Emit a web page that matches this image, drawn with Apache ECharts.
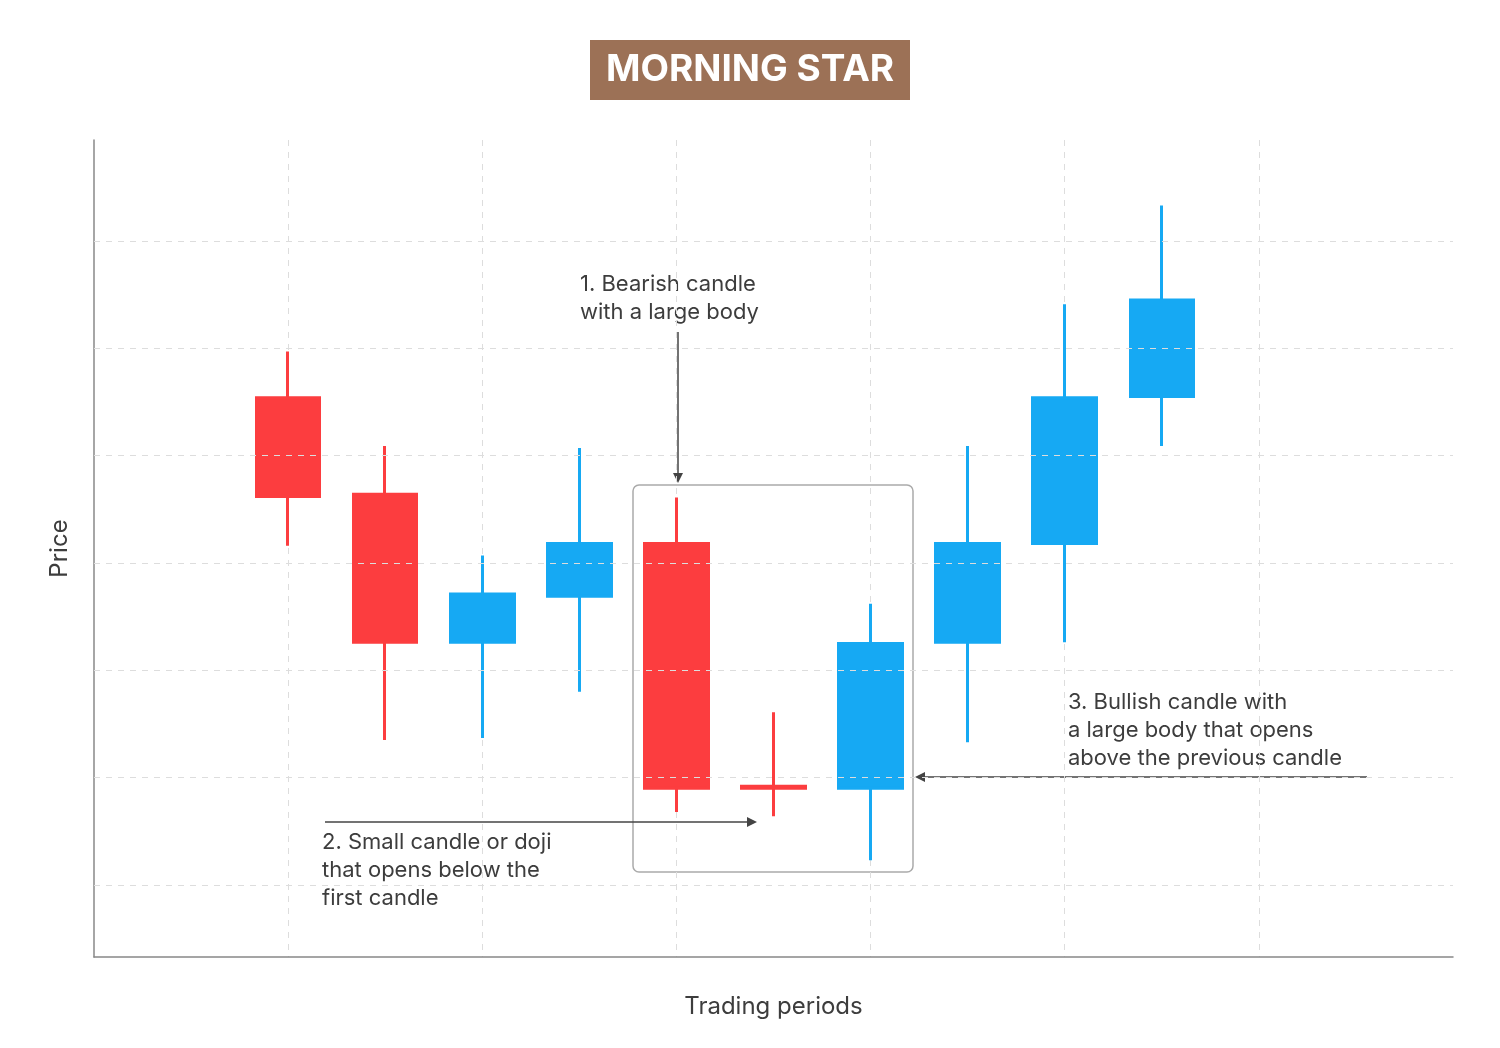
<!DOCTYPE html>
<html>
<head>
<meta charset="utf-8">
<script src="https://cdn.jsdelivr.net/npm/echarts@6/dist/echarts.min.js"></script>
<style>
html,body{margin:0;padding:0;background:#fff;}
#chart{width:1500px;height:1048px;}
</style>
</head>
<body>
<div id="chart"></div>
<script>
/*交易周期（类目）*/
var periods = ['0','1','2','3','4','5','6','7','8','9','10','11','12','13','14'];
/*K线数据 [open, close, low, high]*/
var opens  = ['-','-',5.54,4.64,3.26,3.69,4.18,1.92,1.90,3.26,4.18,5.55,'-','-','-'];
var closes = ['-','-',4.62,3.26,3.71,4.18,1.90,1.90,3.25,4.18,5.54,6.45,'-','-','-'];
var lows   = ['-','-',4.16,2.35,2.37,2.80,1.68,1.64,1.23,2.33,3.26,5.09,'-','-','-'];
var highs  = ['-','-',5.97,5.09,4.07,5.07,4.61,2.61,3.62,5.09,6.41,7.33,'-','-','-'];
/*横向网格线*/
var priceLines = [1,2,3,4,5,6,7];

var kData = periods.map(function(p, i){
	if(opens[i] === '-') return '-';
	return [opens[i], closes[i], lows[i], highs[i]];
});

var txt = '#3d3d3d';
var font = 'Inter, "Open Sans", sans-serif';

function arrow(x1, y1, x2, y2){
	var dx = x2 - x1, dy = y2 - y1, len = Math.sqrt(dx*dx + dy*dy);
	var ux = dx/len, uy = dy/len, s = 10, w = 5;
	return [
		{ type:'line', shape:{x1:x1, y1:y1, x2:x2 - ux*s, y2:y2 - uy*s}, style:{stroke:'#444', lineWidth:1.5} },
		{ type:'polygon', shape:{points:[[x2,y2],[x2-ux*s-uy*w, y2-uy*s+ux*w],[x2-ux*s+uy*w, y2-uy*s-ux*w]]}, style:{fill:'#444'} }
	];
}

function label(x, y, lines){
	return { type:'text', left:x, top:y, style:{ text:lines.join('\n'), fill:txt, font:'22px ' + font, lineHeight:28 } };
}

var chart = echarts.init(document.getElementById('chart'));
var graphics = [
	{ type:'rect', shape:{x:590, y:40, width:320, height:60}, style:{fill:'#9c7156'} },
	{ type:'text', x:750, y:70, style:{ text:'MORNING STAR', fill:'#fff', font:'bold 37px ' + font, align:'center', verticalAlign:'middle' } },
	{ type:'rect', shape:{x:633, y:485, width:280, height:387, r:6}, style:{fill:'none', stroke:'#aaa', lineWidth:1.5} },
	label(580, 270, ['1. Bearish candle', 'with a large body']),
	label(322, 828, ['2. Small candle or doji', 'that opens below the', 'first candle']),
	label(1068, 688, ['3. Bullish candle with', 'a large body that opens', 'above the previous candle'])
];
graphics = graphics.concat(arrow(678, 332, 678, 483), arrow(325, 822, 757, 822), arrow(1367, 777, 915, 777));

var option = {
	animation: false,
	grid: { left:94, right:47, top:140, bottom:91 },
	xAxis: {
		type:'category',
		data: periods,
		boundaryGap:false,
		name:'Trading periods',
		nameLocation:'middle',
		nameGap:38,
		nameTextStyle:{ color:txt, fontSize:24, fontFamily:font },
		axisLine:{ lineStyle:{ color:'#888', width:1.5 } },
		axisTick:{ show:false },
		axisLabel:{ show:false },
		splitLine:{
			show:true,
			interval:function(i){ return i % 2 === 0 && i > 0 && i < 14; },
			lineStyle:{ color:'#ddd', type:[6,6] }
		}
	},
	yAxis: {
		type:'value',
		min:0.329,
		max:7.94,
		name:'Price',
		nameLocation:'middle',
		nameGap:22,
		nameTextStyle:{ color:txt, fontSize:24, fontFamily:font },
		axisLine:{ show:true, lineStyle:{ color:'#888', width:1.5 } },
		axisTick:{ show:false },
		axisLabel:{ show:false },
		splitLine:{ show:false }
	},
	series: [{
		type:'candlestick',
		data:kData,
		barWidth:64,
		itemStyle:{
			color:'#16a9f3', color0:'#fc3d3f',
			borderColor:'#16a9f3', borderColor0:'#fc3d3f',
			borderWidth:3
		},
		markLine:{
			silent:true,
			symbol:'none',
			label:{ show:false },
			lineStyle:{ color:'#ddd', type:[6,6], width:1 },
			data: priceLines.map(function(v){ return { yAxis:v }; })
		},
		z:3
	}],
	graphic: graphics
};
chart.setOption(option);
</script>
</body>
</html>
